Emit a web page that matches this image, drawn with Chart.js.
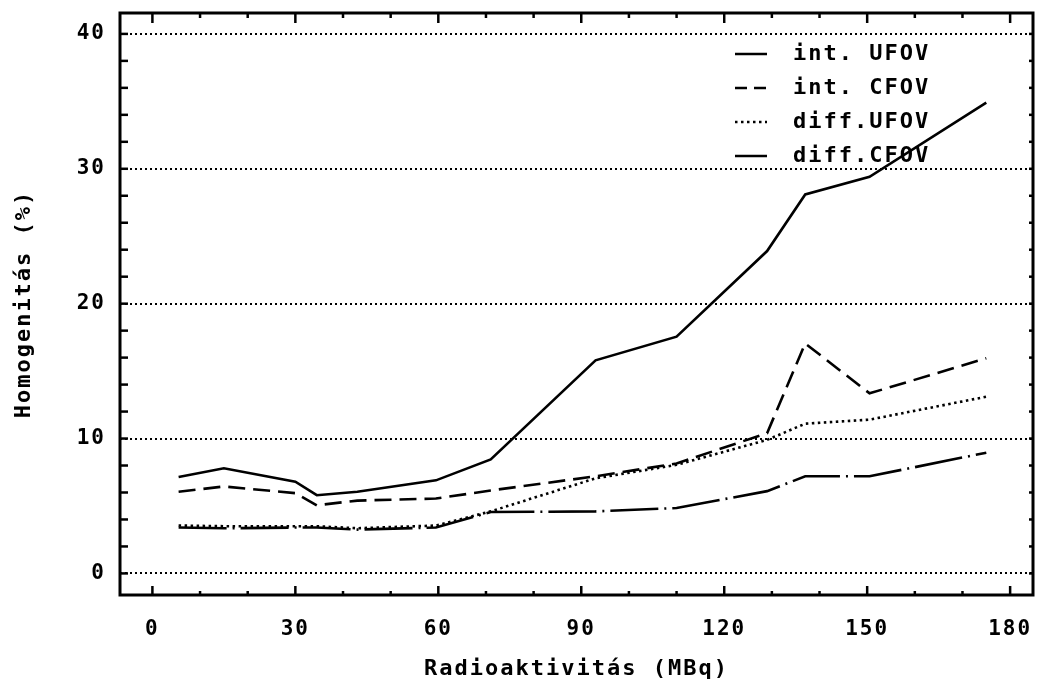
<!DOCTYPE html>
<html>
<head>
<meta charset="utf-8">
<script src="https://cdn.jsdelivr.net/npm/chart.js@4"></script>
<style>
  html, body { margin: 0; padding: 0; background: #fff; }
  canvas { display: block; }
</style>
</head>
<body>
<canvas id="chart" width="1037" height="683"></canvas>
<script>
// activity (MBq) and homogeneity (%)
const activity = [5.5, 15, 30, 34.5, 43, 59.5, 71, 93, 110, 129, 137, 150.5, 175];
const intUFOV  = [7.15, 7.8, 6.8, 5.8, 6.05, 6.9, 8.45, 15.8, 17.55, 23.9, 28.1, 29.4, 34.9];
const intCFOV  = [6.05, 6.45, 5.95, 5.05, 5.4, 5.55, 6.15, 7.2, 8.15, 10.4, 17.05, 13.35, 15.95];
const diffUFOV = [3.55, 3.5, 3.5, 3.5, 3.35, 3.55, 4.6, 7.05, 8.05, 9.9, 11.1, 11.4, 13.1];
const diffCFOV = [3.4, 3.35, 3.4, 3.4, 3.25, 3.4, 4.55, 4.6, 4.85, 6.1, 7.2, 7.2, 8.95];
const seriesNames = ['int. UFOV', 'int. CFOV', 'diff.UFOV', 'diff.CFOV'];
const xTicks = [0, 30, 60, 90, 120, 150, 180];
const yTicks = [0, 10, 20, 30, 40];

const FONT = '"DejaVu Sans Mono", monospace';
const tickFont = { family: FONT, size: 21, weight: 'bold' };
const titleFont = { family: FONT, size: 22, weight: 'bold', lineHeight: 1 };

function toPoints(values) {
  return activity.map((x, i) => ({ x: x, y: values[i] }));
}

const styles = [
  { dash: [], legendDash: [] },
  { dash: [17, 8], legendDash: [12, 7] },
  { dash: [2.5, 3.5], legendDash: [2.5, 3.5] },
  { dash: [48, 6, 2, 6], legendDash: [] }
];

const spacing = {
  id: 'spacing',
  beforeUpdate(chart) { chart.ctx.letterSpacing = '2px'; },
  beforeDraw(chart) { chart.ctx.letterSpacing = '2px'; }
};

// box round the plot with inward tick marks
const frame = {
  id: 'frame',
  afterDraw(chart) {
    const { ctx, chartArea: a, scales: { x, y } } = chart;
    const line = (x1, y1, x2, y2) => {
      ctx.beginPath(); ctx.moveTo(x1, y1); ctx.lineTo(x2, y2); ctx.stroke();
    };
    ctx.save();
    ctx.strokeStyle = '#000';
    ctx.lineWidth = 3;
    ctx.strokeRect(a.left, a.top, a.right - a.left, a.bottom - a.top);
    ctx.lineWidth = 2.5;
    for (let v = 0; v <= 180; v += 10) {
      const px = x.getPixelForValue(v);
      const major = v % 30 === 0;
      line(px, a.bottom, px, a.bottom - (major ? 9 : 4));
      line(px, a.top, px, a.top + (major ? 10 : 5));
    }
    for (let v = 0; v <= 40; v += 2) {
      const py = y.getPixelForValue(v);
      line(a.left, py, a.left + 8, py);
      line(a.right, py, a.right - 4, py);
    }
    ctx.restore();
  }
};

const legendBox = {
  id: 'legendBox',
  afterDraw(chart) {
    const ctx = chart.ctx;
    ctx.save();
    ctx.letterSpacing = '2px';
    ctx.font = 'bold 22px ' + FONT;
    ctx.fillStyle = '#000';
    ctx.strokeStyle = '#000';
    ctx.textBaseline = 'middle';
    chart.data.datasets.forEach((ds, i) => {
      const yy = 54 + i * 34;
      ctx.lineWidth = 2.5;
      ctx.setLineDash(styles[i].legendDash);
      ctx.beginPath();
      ctx.moveTo(735, yy);
      ctx.lineTo(767, yy);
      ctx.stroke();
      ctx.setLineDash([]);
      ctx.fillText(ds.label, 793, yy);
    });
    ctx.restore();
  }
};

const seriesValues = [intUFOV, intCFOV, diffUFOV, diffCFOV];

new Chart(document.getElementById('chart'), {
  type: 'line',
  data: {
    datasets: seriesValues.map((vals, i) => ({
      label: seriesNames[i],
      data: toPoints(vals),
      borderColor: '#000',
      borderWidth: 2.6,
      borderDash: styles[i].dash,
      pointRadius: 0,
      fill: false,
      tension: 0
    }))
  },
  options: {
    responsive: false,
    devicePixelRatio: 1,
    animation: false,
    layout: { padding: { top: 13, right: 4, left: 0, bottom: 0 } },
    plugins: {
      legend: { display: false },
      tooltip: { enabled: false }
    },
    scales: {
      x: {
        type: 'linear',
        min: -6.8,
        max: 184.8,
        afterBuildTicks: s => { s.ticks = xTicks.map(v => ({ value: v })); },
        afterFit: s => { s.height = 88; s.paddingLeft = 0; s.paddingRight = 0; },
        grid: { display: false, drawTicks: false },
        border: { display: false },
        ticks: { color: '#000', font: tickFont, padding: 22, maxRotation: 0 },
        title: {
          display: true,
          text: 'Radioaktivitás (MBq)',
          color: '#000',
          font: titleFont,
          padding: { top: 0, bottom: 3 }
        }
      },
      y: {
        min: -1.6,
        max: 41.55,
        afterBuildTicks: s => { s.ticks = yTicks.map(v => ({ value: v })); },
        afterFit: s => { s.width = 120; s.paddingTop = 0; s.paddingBottom = 0; },
        grid: { color: '#000', lineWidth: 2, drawTicks: false },
        border: { display: false, dash: [2, 3] },
        ticks: { color: '#000', font: tickFont, padding: 14 },
        title: {
          display: true,
          text: 'Homogenitás (%)',
          color: '#000',
          font: titleFont,
          padding: { top: 13, bottom: 0 }
        }
      }
    }
  },
  plugins: [spacing, frame, legendBox]
});
</script>
</body>
</html>
